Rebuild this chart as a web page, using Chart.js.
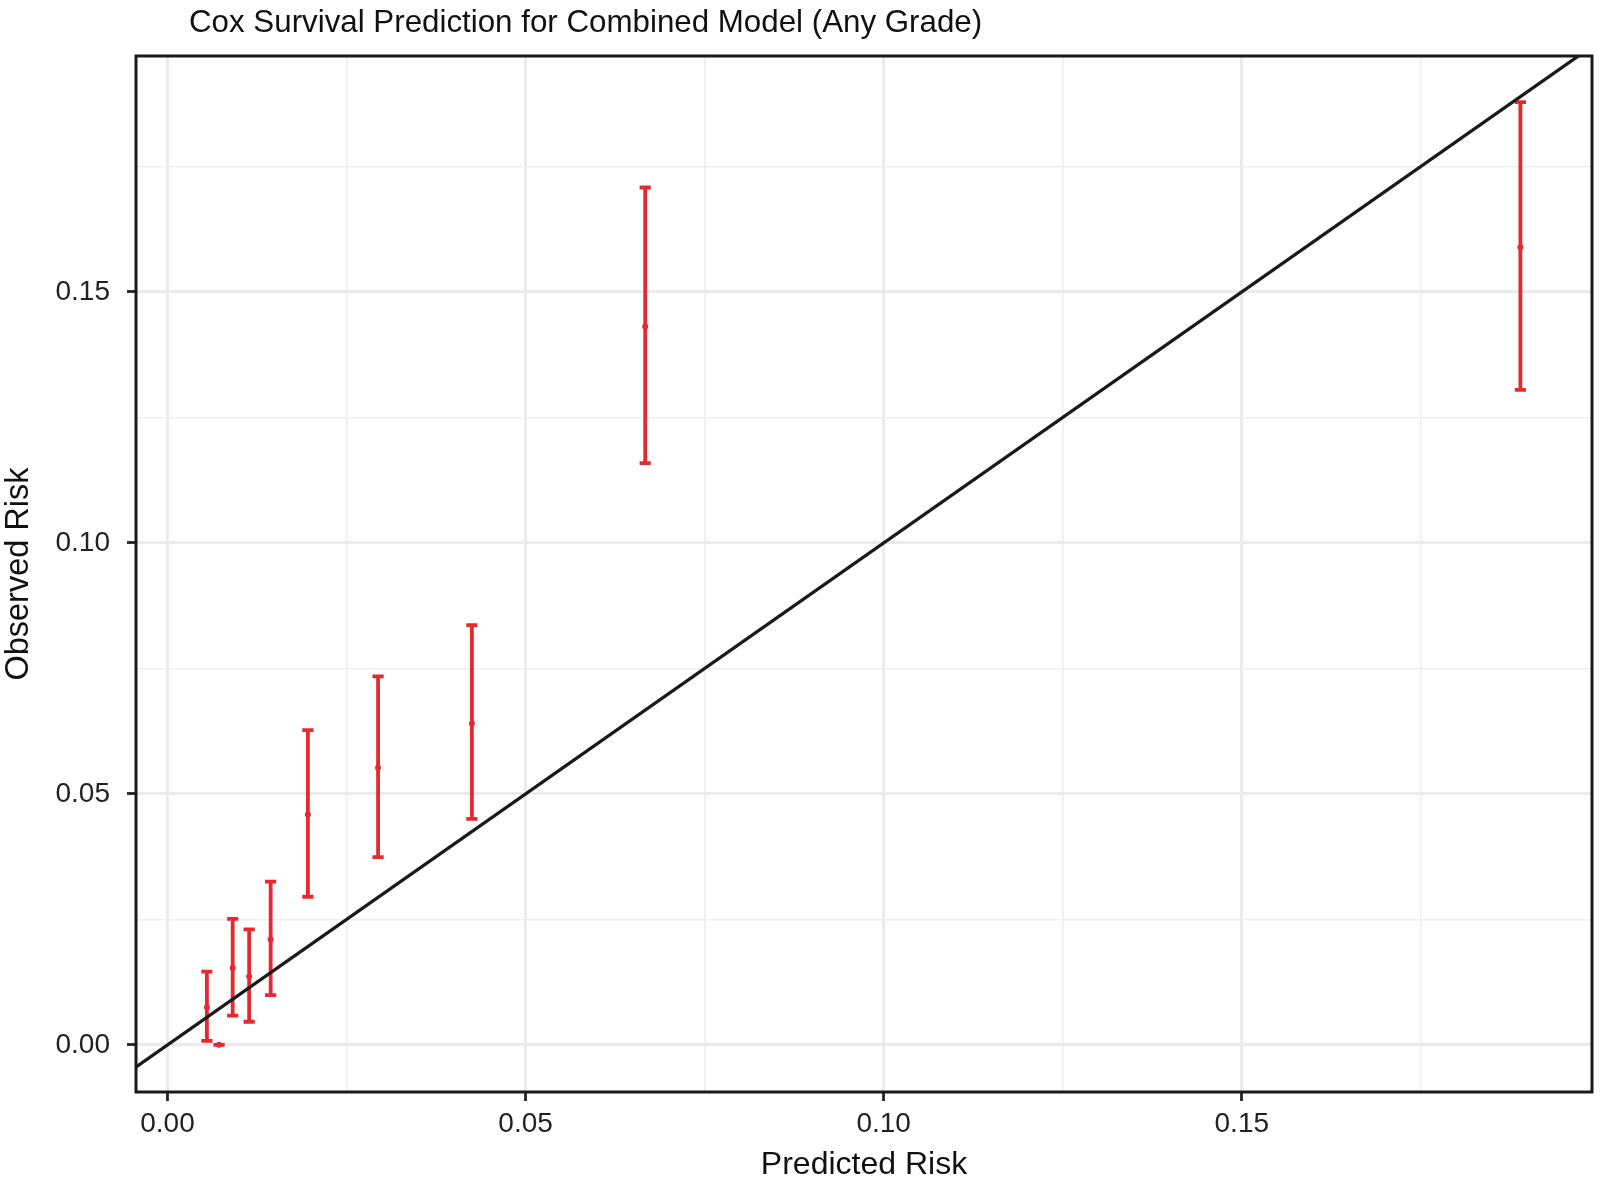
<!DOCTYPE html>
<html>
<head>
<meta charset="utf-8">
<script src="https://cdn.jsdelivr.net/npm/chart.js@4.4.1/dist/chart.umd.min.js"></script>
<style>
  html, body { margin: 0; padding: 0; background: #fff; }
  #wrap { width: 1600px; height: 1184px; }
</style>
</head>
<body>
<div id="wrap"><canvas id="calib" width="1600" height="1184"></canvas></div>
<script>
// calibration groups
const predicted = [0.0055, 0.0072, 0.0091, 0.0114, 0.0144, 0.0196, 0.0294, 0.0425, 0.0667, 0.1889];
const observed  = [0.0075, 0.0000, 0.0153, 0.0136, 0.0210, 0.0459, 0.0552, 0.0640, 0.1431, 0.1589];
const lowerCI   = [0.0008, 0.0000, 0.0058, 0.0046, 0.0099, 0.0295, 0.0374, 0.0450, 0.1159, 0.1305];
const upperCI   = [0.0146, 0.0000, 0.0251, 0.0230, 0.0325, 0.0627, 0.0734, 0.0836, 0.1708, 0.1878];

// identity line ends (y = x)
const refLine = [-0.01, 0.21];

const majorTicks  = [0, 0.05, 0.10, 0.15];
const majorLabels = ["0.00", "0.05", "0.10", "0.15"];
const minorTicks  = [0.025, 0.075, 0.125, 0.175];

const RED = "#e32a2f";
const FONT = "'Liberation Sans', Arial, Helvetica, sans-serif";

function isMajor(v) {
  return majorTicks.some(m => Math.abs(m - v) < 1e-9);
}

function setTicks(scale) {
  const all = majorTicks.concat(minorTicks).sort((a, b) => a - b);
  scale.ticks = all.map(v => ({ value: v }));
}

function tickLabel(value) {
  const i = majorTicks.findIndex(m => Math.abs(m - value) < 1e-9);
  return i >= 0 ? majorLabels[i] : "";
}

const errorBars = {
  id: "errorBars",
  beforeDatasetsDraw(chart) {
    const { ctx, scales: { x, y } } = chart;
    ctx.save();
    ctx.beginPath();
    ctx.rect(chart.chartArea.left, chart.chartArea.top,
      chart.chartArea.right - chart.chartArea.left, chart.chartArea.bottom - chart.chartArea.top);
    ctx.clip();
    ctx.strokeStyle = RED;
    ctx.lineWidth = 3.8;
    ctx.lineCap = "butt";
    predicted.forEach((p, i) => {
      const px = x.getPixelForValue(p);
      const lo = y.getPixelForValue(lowerCI[i]);
      const hi = y.getPixelForValue(upperCI[i]);
      const half = x.getPixelForValue(p + 0.00078) - px;
      ctx.beginPath();
      ctx.moveTo(px, lo + 1.9);
      ctx.lineTo(px, hi - 1.9);
      ctx.moveTo(px - half, lo);
      ctx.lineTo(px + half, lo);
      ctx.moveTo(px - half, hi);
      ctx.lineTo(px + half, hi);
      ctx.stroke();
    });
    ctx.restore();
  }
};

const frame = {
  id: "frame",
  afterDraw(chart) {
    const { ctx, chartArea: a } = chart;
    ctx.save();
    ctx.strokeStyle = "#1a1a1a";
    ctx.lineWidth = 3;
    ctx.strokeRect(a.left, a.top, a.right - a.left, a.bottom - a.top);
    // title
    ctx.fillStyle = "#111";
    ctx.font = "31.3px " + FONT;
    ctx.textBaseline = "middle";
    ctx.textAlign = "left";
    ctx.fillText("Cox Survival Prediction for Combined Model (Any Grade)", 189, 23);
    ctx.restore();
  }
};

new Chart(document.getElementById("calib"), {
  type: "scatter",
  data: {
    datasets: [
      {
        type: "line",
        data: refLine.map(v => ({ x: v, y: v })),
        borderColor: "#1a1a1a",
        borderWidth: 3.3,
        pointRadius: 0
      },
      {
        data: predicted.map((p, i) => ({ x: p, y: observed[i] })),
        backgroundColor: RED,
        borderColor: RED,
        pointRadius: 3,
        borderWidth: 0
      }
    ]
  },
  options: {
    responsive: false,
    animation: false,
    devicePixelRatio: 1,
    layout: { padding: { left: 0, right: 8, top: 56, bottom: 0 } },
    plugins: {
      legend: { display: false },
      tooltip: { enabled: false },
      title: { display: false }
    },
    scales: {
      x: {
        type: "linear",
        min: -0.0044,
        max: 0.1989,
        afterBuildTicks: setTicks,
        afterFit(scale) { scale.height = 92; },
        border: { display: false },
        grid: {
          color: c => isMajor(c.tick.value) ? "#ebebeb" : "#efefef",
          lineWidth: c => isMajor(c.tick.value) ? 3 : 1.6,
          tickColor: c => isMajor(c.tick.value) ? "#222" : "rgba(0,0,0,0)",
          tickLength: 9,
          tickWidth: 2.8
        },
        ticks: {
          autoSkip: false,
          maxRotation: 0,
          padding: 6,
          color: "#222",
          font: { family: FONT, size: 28 },
          callback: v => tickLabel(v)
        },
        title: {
          display: true,
          text: "Predicted Risk",
          color: "#111",
          padding: 0,
          font: { family: FONT, size: 32 }
        }
      },
      y: {
        type: "linear",
        min: -0.0094,
        max: 0.1970,
        afterBuildTicks: setTicks,
        afterFit(scale) { scale.width = 136; },
        border: { display: false },
        grid: {
          color: c => isMajor(c.tick.value) ? "#ebebeb" : "#efefef",
          lineWidth: c => isMajor(c.tick.value) ? 3 : 1.6,
          tickColor: c => isMajor(c.tick.value) ? "#222" : "rgba(0,0,0,0)",
          tickLength: 9,
          tickWidth: 2.8
        },
        ticks: {
          autoSkip: false,
          padding: 17,
          color: "#222",
          font: { family: FONT, size: 28 },
          callback: v => tickLabel(v)
        },
        title: {
          display: true,
          text: "Observed Risk",
          color: "#111",
          padding: 0,
          font: { family: FONT, size: 32.5, lineHeight: 1.15 }
        }
      }
    }
  },
  plugins: [errorBars, frame]
});
</script>
</body>
</html>
